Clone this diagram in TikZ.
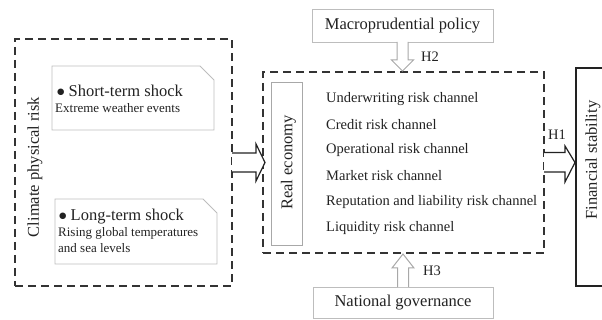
\documentclass[tikz,border=0pt]{standalone}
\usepackage{fontspec}
\setmainfont{Liberation Serif}
\newfontfamily\symbfont{DejaVu Sans}
\usetikzlibrary{calc}
\definecolor{ink}{HTML}{222222}
\definecolor{lightline}{HTML}{BDBDBD}
\definecolor{midline}{HTML}{A8A8A8}
\definecolor{dashline}{HTML}{333333}
\newcommand{\bigdot}{\raisebox{2.2pt}{\symbfont\fontsize{8.5}{8.5}\selectfont ●}}
\tikzset{
  bigfont/.style={font=\fontsize{16.5}{19}\selectfont},
  smallfont/.style={font=\fontsize{13}{15}\selectfont},
  chanfont/.style={font=\fontsize{14.5}{17}\selectfont},
  area/.style={rectangle, inner sep=0pt, outer sep=0pt},
  dashbox/.style={area, draw=dashline, line width=1.3pt, dash pattern=on 8pt off 5pt},
  lightbox/.style={draw=lightline, line width=0.9pt, line join=miter},
  graybox/.style={area, draw=midline, line width=0.9pt},
  txt/.style={inner sep=0pt, text=ink},
  blackarrow/.style={draw=ink, line width=1.2pt, fill=white, line join=miter},
  grayarrow/.style={draw=midline, line width=1pt, fill=white, line join=miter},
}
\begin{document}
\begin{tikzpicture}[x=1pt,y=-1pt]
\useasboundingbox (0,0) rectangle (602,320);

% left dashed group
\node[dashbox, minimum width=217pt, minimum height=247pt] (cpr) at (123.5,162.5) {};
\node[txt, bigfont, rotate=90] (cprt) at (35,167) {Climate physical risk};

% short-term box
\node[area, minimum width=162pt, minimum height=64pt] (st) at (133,98) {};
\draw[lightbox] (st.north west) -- ([xshift=-14pt]st.north east) -- ([yshift=-14pt]st.north east) -- (st.south east) -- (st.south west) -- cycle;
\node[txt, bigfont, anchor=west] (stt) at (57,91) {\bigdot\ Short-term shock};
\node[txt, smallfont, anchor=west] (sts) at (55,108) {Extreme weather events};

% long-term box
\node[area, minimum width=162pt, minimum height=65pt] (lt) at (136,231.5) {};
\draw[lightbox] (lt.north west) -- ([xshift=-14pt]lt.north east) -- ([yshift=-14pt]lt.north east) -- (lt.south east) -- (lt.south west) -- cycle;
\node[txt, bigfont, anchor=west] (ltt) at (59,217) {\bigdot\ Long-term shock};
\node[txt, smallfont, anchor=west] (lts1) at (58,233) {Rising global temperatures};
\node[txt, smallfont, anchor=west] (lts2) at (58,248) {and sea levels};

% middle dashed group
\node[dashbox, minimum width=281pt, minimum height=181pt] (mid) at (403.5,162.5) {};
\node[graybox, minimum width=31pt, minimum height=163pt] (re) at (286.5,163.5) {};
\node[txt, bigfont, rotate=90] (ret) at (288.5,162.5) {Real economy};
\node[txt, chanfont, anchor=west] (c1) at (326,99) {Underwriting risk channel};
\node[txt, chanfont, anchor=west] (c2) at (326,124.5) {Credit risk channel};
\node[txt, chanfont, anchor=west] (c3) at (326,150) {Operational risk channel};
\node[txt, chanfont, anchor=west] (c4) at (326,176) {Market risk channel};
\node[txt, chanfont, anchor=west] (c5) at (326,202) {Reputation and liability risk channel};
\node[txt, chanfont, anchor=west] (c6) at (326,228) {Liquidity risk channel};

% top and bottom boxes
\node[area, draw=lightline, line width=0.9pt, minimum width=181pt, minimum height=33pt] (mp) at (402.5,25.5) {};
\node[txt, bigfont] (mpt) at (mp.center) {Macroprudential policy};
\node[area, draw=lightline, line width=0.9pt, minimum width=180pt, minimum height=31pt] (ng) at (403,302.5) {};
\node[txt, bigfont] (ngt) at (ng.center) {National governance};

% financial stability box (cut by the right edge)
\node[area, minimum width=52pt, minimum height=218pt] (fs) at (602,177) {};
\draw[draw=ink, line width=1.1pt] (fs.north) -- (fs.north west) -- (fs.south west) -- (fs.south);
\node[txt, bigfont, rotate=90] (fst) at (593,160) {Financial stability};

% left big arrow
\draw[blackarrow] ($(cpr.east)+(0,-9.5)$) -- ($(cpr.east)+(24,-9.5)$) -- ($(cpr.east)+(24,-18.5)$)
  -- ($(mid.west)+(2,0)$) -- ($(cpr.east)+(24,18.5)$) -- ($(cpr.east)+(24,9.5)$) -- ($(cpr.east)+(0,9.5)$);

% H1 arrow
\draw[blackarrow] ($(mid.east)+(0,-10)$) -- ($(mid.east)+(21,-10)$) -- ($(mid.east)+(21,-16.5)$)
  -- ($(fs.west |- mid.east)+(-1,0)$) -- ($(mid.east)+(21,19.5)$) -- ($(mid.east)+(21,9.5)$) -- ($(mid.east)+(0,9.5)$);
\node[txt, chanfont] (h1) at (557,135) {H1};

% H2 arrow
\draw[grayarrow] ($(mp.south)+(-5.5,0)$) -- ($(mp.south)+(-5.5,18)$) -- ($(mp.south)+(-11,18)$)
  -- ($(mp.south |- mid.north)+(0,-1)$) -- ($(mp.south)+(11,18)$) -- ($(mp.south)+(5.5,18)$) -- ($(mp.south)+(5.5,0)$);
\node[txt, chanfont] (h2) at (430,57) {H2};

% H3 arrow
\draw[grayarrow] ($(ng.north)+(-5.5,0)$) -- ($(ng.north)+(-5.5,-19)$) -- ($(ng.north)+(-11,-19)$)
  -- ($(ng.north |- mid.south)+(0,1)$) -- ($(ng.north)+(11,-19)$) -- ($(ng.north)+(5.5,-19)$) -- ($(ng.north)+(5.5,0)$);
\node[txt, chanfont] (h3) at (432,271) {H3};
\end{tikzpicture}
\end{document}
